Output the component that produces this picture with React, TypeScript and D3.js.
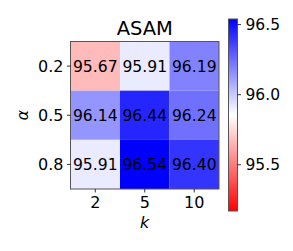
import React from 'react';
import * as d3 from 'd3';

// heatmap data (rows = alpha, cols = k)
const alphas = ['0.2', '0.5', '0.8'];
const ks = ['2', '5', '10'];
const accRow02 = [95.67, 95.91, 96.19];
const accRow05 = [96.14, 96.44, 96.24];
const accRow08 = [95.91, 96.54, 96.4];
const rows = [accRow02, accRow05, accRow08];

// colour range of the colorbar
const colorMin = 95.17;
const colorMax = 96.54;
const cbarTicks = [95.5, 96.0, 96.5];

const font = 'DejaVu Sans, sans-serif';

const App = () => {
  const W = 293;
  const H = 251;
  const hm = { left: 70.5, right: 219, top: 41.5, bottom: 189 };
  const cb = { left: 228.5, right: 237.5, top: 19, bottom: 211 };

  const x = d3.scaleBand<string>().domain(ks).range([hm.left, hm.right]);
  const y = d3.scaleBand<string>().domain(alphas).range([hm.top, hm.bottom]);

  const mid = (colorMin + colorMax) / 2;
  const color = d3.scaleLinear<string>()
    .domain([colorMin, mid, colorMax])
    .range(['#ff0000', '#ffffff', '#0000ff'])
    .interpolate(d3.interpolateRgb)
    .clamp(true);

  const cbY = d3.scaleLinear().domain([colorMin, colorMax]).range([cb.bottom, cb.top]);

  const cells = [];
  rows.forEach((row, i) => {
    row.forEach((v, j) => {
      cells.push({ a: alphas[i], k: ks[j], v });
    });
  });

  const stops = d3.range(0, 1.0001, 0.05);

  return (
    <svg width={W} height={H} style={{ position: 'absolute', left: 0, top: 0, background: '#fff' }}>
      <defs>
        <linearGradient id="cbar" x1="0" y1="1" x2="0" y2="0">
          {stops.map(t => (
            <stop key={t} offset={t} stopColor={color(colorMin + t * (colorMax - colorMin))} />
          ))}
        </linearGradient>
      </defs>

      {/* title */}
      <text x={(hm.left + hm.right) / 2} y={35} textAnchor="middle" fontFamily={font} fontSize={19.5} fill="#000">
        ASAM
      </text>

      {/* cells */}
      {cells.map(c => (
        <g key={c.a + '-' + c.k}>
          <rect x={x(c.k)} y={y(c.a)} width={x.bandwidth()} height={y.bandwidth()} fill={color(c.v)} />
          <text
            x={x(c.k)! + x.bandwidth() / 2}
            y={y(c.a)! + y.bandwidth() / 2}
            dy="0.36em"
            textAnchor="middle"
            fontFamily={font}
            fontSize={15.6}
            fill="#000"
          >
            {c.v.toFixed(2)}
          </text>
        </g>
      ))}
      <rect x={hm.left} y={hm.top} width={hm.right - hm.left} height={hm.bottom - hm.top} fill="none" stroke="#555" strokeWidth={1} />

      {/* y axis */}
      {alphas.map(a => {
        const yy = y(a)! + y.bandwidth() / 2;
        return (
          <g key={a}>
            <line x1={hm.left - 3.5} x2={hm.left} y1={yy} y2={yy} stroke="#000" strokeWidth={0.8} />
            <text x={hm.left - 7} y={yy} dy="0.36em" textAnchor="end" fontFamily={font} fontSize={16} fill="#000">
              {a}
            </text>
          </g>
        );
      })}
      <text
        transform={`translate(28, ${(hm.top + hm.bottom) / 2}) rotate(-90)`}
        textAnchor="middle"
        fontFamily={font}
        fontStyle="italic"
        fontSize={16}
        fill="#000"
      >
        α
      </text>

      {/* x axis */}
      {ks.map(k => {
        const xx = x(k)! + x.bandwidth() / 2;
        return (
          <g key={k}>
            <line x1={xx} x2={xx} y1={hm.bottom} y2={hm.bottom + 3.5} stroke="#000" strokeWidth={0.8} />
            <text x={xx} y={208} textAnchor="middle" fontFamily={font} fontSize={16} fill="#000">
              {k}
            </text>
          </g>
        );
      })}
      <text x={(hm.left + hm.right) / 2} y={228} textAnchor="middle" fontFamily={font} fontStyle="italic" fontSize={16} fill="#000">
        k
      </text>

      {/* colorbar */}
      <rect x={cb.left} y={cb.top} width={cb.right - cb.left} height={cb.bottom - cb.top} fill="url(#cbar)" stroke="#555" strokeWidth={1} />
      {cbarTicks.map(t => (
        <g key={t}>
          <line x1={cb.right} x2={cb.right + 3.5} y1={cbY(t)} y2={cbY(t)} stroke="#000" strokeWidth={0.8} />
          <text x={cb.right + 8} y={cbY(t)} dy="0.36em" fontFamily={font} fontSize={15.5} fill="#000">
            {t.toFixed(1)}
          </text>
        </g>
      ))}
    </svg>
  );
};

export default App;
